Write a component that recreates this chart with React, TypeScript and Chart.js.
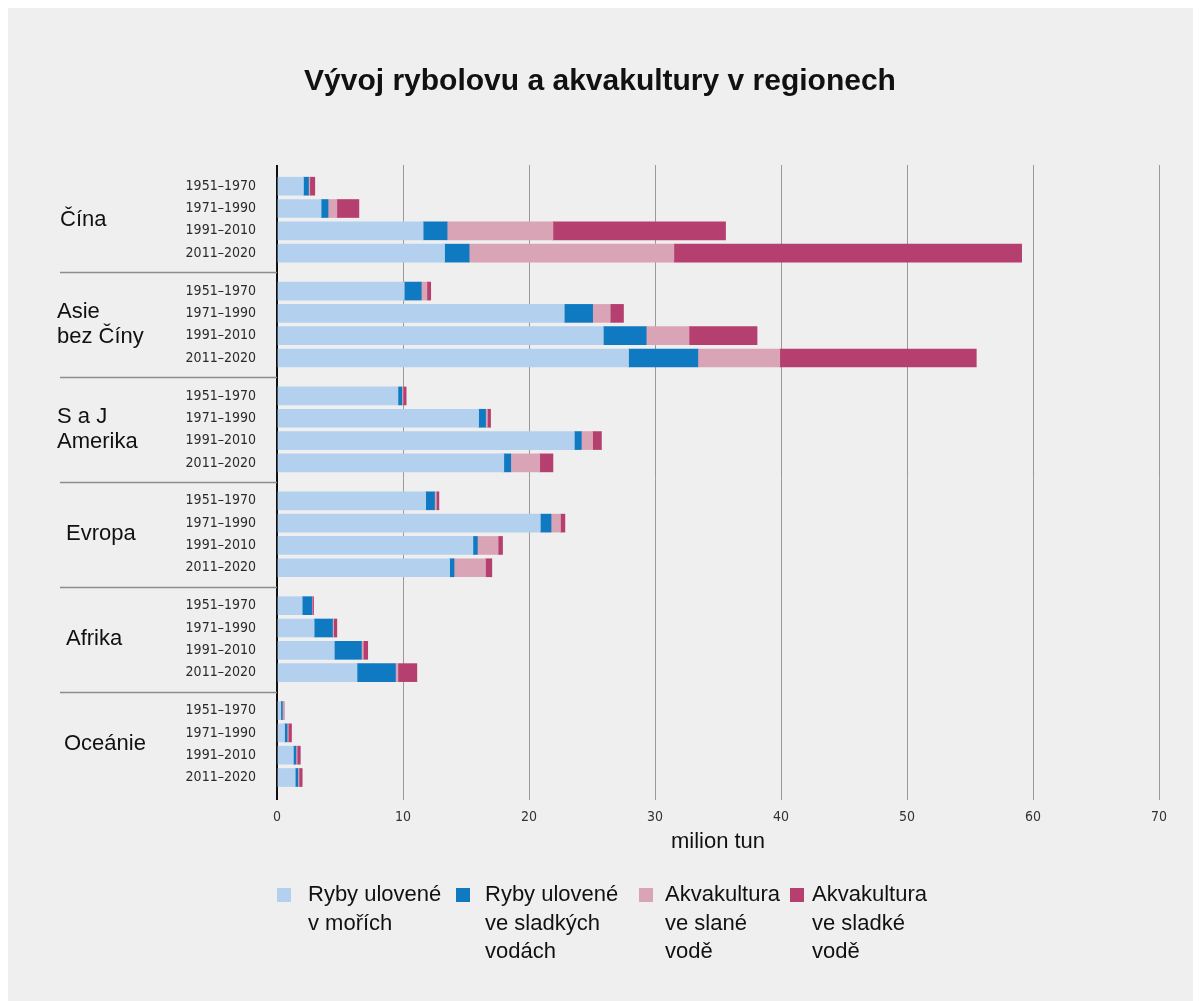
import React, { useEffect, useRef } from "react";
import { Chart, registerables } from "chart.js";

Chart.register(...registerables);

// ---------- data ----------
const chartTitle = "Vývoj rybolovu a akvakultury v regionech";
const xAxisTitle = "milion tun";
const regions: string[][] = [["Čína"], ["Asie", "bez Číny"], ["S a J", "Amerika"], ["Evropa"], ["Afrika"], ["Oceánie"]];
const periods = ["1951–1970", "1971–1990", "1991–2010", "2011–2020"];
const seaCatch = [2.1, 3.5, 11.6, 13.3, 10.1, 22.8, 25.9, 27.9, 9.6, 16.0, 23.6, 18.0, 11.8, 20.9, 15.55, 13.7, 2.0, 2.95, 4.55, 6.35, 0.3, 0.6, 1.3, 1.45];
const freshCatch = [0.4, 0.55, 1.9, 1.95, 1.35, 2.25, 3.4, 5.5, 0.3, 0.55, 0.55, 0.55, 0.7, 0.85, 0.35, 0.35, 0.75, 1.45, 2.15, 3.05, 0.12, 0.2, 0.2, 0.2];
const marineAqua = [0.1, 0.7, 8.4, 16.25, 0.45, 1.4, 3.4, 6.5, 0.1, 0.15, 0.9, 2.3, 0.15, 0.75, 1.65, 2.5, 0.05, 0.1, 0.15, 0.2, 0.1, 0.1, 0.1, 0.1];
const freshAqua = [0.4, 1.75, 13.7, 27.6, 0.3, 1.05, 5.4, 15.6, 0.25, 0.25, 0.7, 1.05, 0.2, 0.35, 0.35, 0.5, 0.1, 0.25, 0.35, 1.5, 0.04, 0.25, 0.25, 0.25];
const seriesLabels: string[][] = [
  ["Ryby ulovené", "v mořích"],
  ["Ryby ulovené", "ve sladkých", "vodách"],
  ["Akvakultura", "ve slané", "vodě"],
  ["Akvakultura", "ve sladké", "vodě"],
];
const xTickValues = [0, 10, 20, 30, 40, 50, 60, 70];

// ---------- style ----------
const colors = ["#b3d1ef", "#0f7ac1", "#d9a4b5", "#b5406f"];
const GROUP_STEP = 4.7;
const SEP_OFFSET = 3.85;
const regionLabelX = [52, 49, 49, 58, 58, 56];
const legendSquareX = [269, 448, 631, 782];
const legendTextX = [300, 477, 657, 804];
const BG = "#efefef";
const narrow = "'DejaVu Sans Condensed', 'Liberation Sans Narrow', sans-serif";
const sans = "'Liberation Sans', Arial, sans-serif";

const barPos = (i: number) => Math.floor(i / periods.length) * GROUP_STEP + (i % periods.length);
const positions = seaCatch.map((_, i) => barPos(i));

const overlayPlugin = {
  id: "overlay",
  afterDraw(chart: any) {
    const { ctx, scales } = chart;
    const y = scales.y;
    const left = chart.chartArea.left;
    ctx.save();
    // region separators
    ctx.strokeStyle = "#8c8c8c";
    ctx.lineWidth = 1.5;
    for (let g = 0; g < regions.length - 1; g++) {
      const py = Math.round(y.getPixelForValue(g * GROUP_STEP + SEP_OFFSET)) + 0.5;
      ctx.beginPath();
      ctx.moveTo(52, py);
      ctx.lineTo(left, py);
      ctx.stroke();
    }
    // region labels
    ctx.fillStyle = "#111";
    ctx.font = `22px ${sans}`;
    ctx.textAlign = "left";
    ctx.textBaseline = "middle";
    regions.forEach((lines, g) => {
      const cy = y.getPixelForValue(g * GROUP_STEP + 1.5);
      const lh = 25;
      const start = cy - ((lines.length - 1) * lh) / 2;
      lines.forEach((t, k) => ctx.fillText(t, regionLabelX[g], start + k * lh));
    });
    // legend
    const ly = 887;
    seriesLabels.forEach((lines, s) => {
      ctx.fillStyle = colors[s];
      ctx.fillRect(legendSquareX[s], ly - 7, 14, 14);
      ctx.fillStyle = "#111";
      lines.forEach((t, k) => ctx.fillText(t, legendTextX[s], ly + k * 28.5));
    });
    ctx.restore();
  },
};

const bgPlugin = {
  id: "bg",
  beforeDraw(chart: any) {
    const { ctx, width, height } = chart;
    ctx.save();
    ctx.fillStyle = BG;
    ctx.fillRect(0, 0, width, height);
    ctx.restore();
  },
};

export default function App() {
  const ref = useRef<HTMLCanvasElement | null>(null);
  useEffect(() => {
    document.body.style.overflow = "hidden";
    const series = [seaCatch, freshCatch, marineAqua, freshAqua];
    const chart = new Chart(ref.current as HTMLCanvasElement, {
      type: "bar",
      data: {
        datasets: series.map((vals, s) => ({
          label: seriesLabels[s].join(" "),
          data: vals.map((v, i) => ({ x: v, y: positions[i] })),
          backgroundColor: colors[s],
          borderWidth: 0,
          barThickness: 18,
        })),
      },
      options: {
        indexAxis: "y",
        animation: false,
        responsive: false,
        maintainAspectRatio: false,
        layout: { padding: { left: 33, right: 42, top: 0, bottom: 139 } },
        plugins: {
          legend: { display: false },
          tooltip: { enabled: false },
          title: {
            display: true,
            text: chartTitle,
            color: "#111",
            font: { family: sans, size: 30, weight: "bold" },
            padding: { top: 56, bottom: 65 },
          },
        },
        scales: {
          x: {
            type: "linear",
            stacked: true,
            min: 0,
            max: 70,
            afterBuildTicks: (s: any) => {
              s.ticks = xTickValues.map((v) => ({ value: v }));
            },
            afterFit: (s: any) => {
              s.height = 70;
            },
            border: { display: false },
            grid: {
              color: (c: any) => (c.tick && c.tick.value === 0 ? "#111" : "#999"),
              lineWidth: (c: any) => (c.tick && c.tick.value === 0 ? 2 : 1),
              tickLength: 8,
              drawTicks: true,
            },
            ticks: {
              color: "#333",
              font: { family: narrow, size: 14 },
              padding: 9,
            },
            title: {
              display: true,
              text: xAxisTitle,
              color: "#111",
              font: { family: sans, size: 22 },
              padding: { top: 0, bottom: 7 },
            },
          },
          y: {
            type: "linear",
            stacked: true,
            reverse: true,
            offset: false,
            min: -0.95,
            max: 27.15,
            afterBuildTicks: (s: any) => {
              s.ticks = positions.map((v) => ({ value: v }));
            },
            afterFit: (s: any) => {
              s.width = 236;
            },
            border: { display: false },
            grid: { display: false, drawTicks: false, offset: false },
            ticks: {
              autoSkip: false,
              color: "#2a2a2a",
              font: { family: narrow, size: 14 },
              padding: 21,
              callback: (value: any) => {
                const idx = positions.findIndex((p) => Math.abs(p - Number(value)) < 1e-6);
                return idx >= 0 ? periods[idx % periods.length] : "";
              },
            },
          },
        },
      },
      plugins: [bgPlugin, overlayPlugin],
    } as any);
    return () => chart.destroy();
  }, []);

  return (
    <div style={{ width: 1193, height: 993, background: BG }}>
      <canvas ref={ref} width={1193} height={993} style={{ display: "block" }} />
    </div>
  );
}
